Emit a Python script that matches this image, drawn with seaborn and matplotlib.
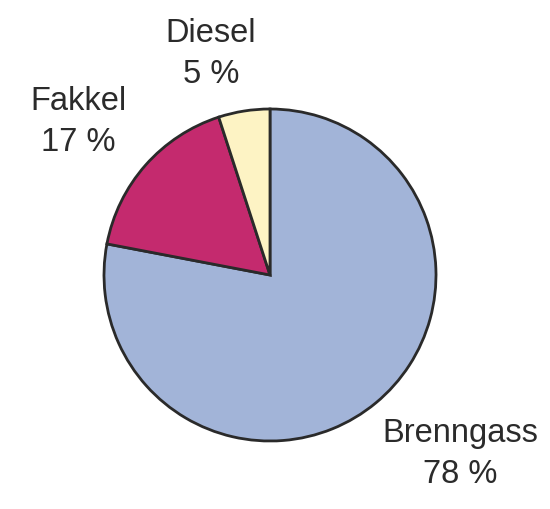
import matplotlib
matplotlib.use("Agg")
import matplotlib.pyplot as plt
import seaborn as sns

sns.set_theme(style="white")
plt.rcParams['font.family'] = ['Liberation Sans', 'DejaVu Sans']

# data
kategorier = ["Brenngass", "Fakkel", "Diesel"]
andeler = [78, 17, 5]
farger = ["#a2b4d8", "#c42a6e", "#fdf3c4"]

# label layout (pixel coords, y from top)
etikett_pos = [(460, 454), (78, 122), (211, 54)]

fig = plt.figure(figsize=(5.5, 5.1), dpi=100)
ax = fig.add_axes([0, 0, 1, 1])
ax.set_xlim(0, 550)
ax.set_ylim(0, 510)
ax.set_aspect("equal")
ax.axis("off")

ax.pie(andeler, colors=farger, startangle=90, counterclock=False,
       center=(270, 510 - 276), radius=166,
       wedgeprops=dict(edgecolor="#2a2a2a", linewidth=2.0))

for navn, verdi, (x, y) in zip(kategorier, andeler, etikett_pos):
    ax.text(x, 510 - y, f"{navn}\n{verdi} %", ha="center", va="center",
            fontsize=23.5, color="#2b2b2b", linespacing=1.38)

ax.set_xlim(0, 550)
ax.set_ylim(0, 510)
fig.savefig("out.png", dpi=100)
